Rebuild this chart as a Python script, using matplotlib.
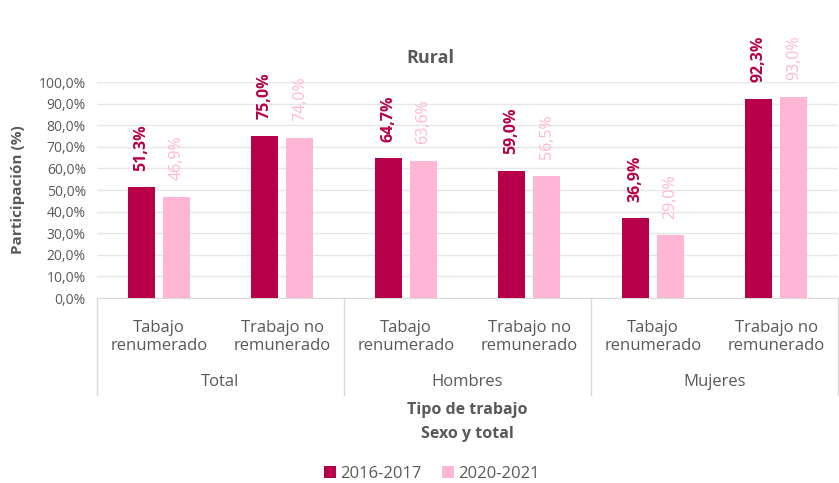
import matplotlib.pyplot as plt
import numpy as np

plt.rcParams['font.family'] = ['Open Sans', 'DejaVu Sans']

groups = ['Total', 'Hombres', 'Mujeres']
subcats = ['Tabajo\nrenumerado', 'Trabajo no\nremunerado']
series_names = ['2016-2017', '2020-2021']
vals_2016 = [51.3, 75.0, 64.7, 59.0, 36.9, 92.3]
vals_2020 = [46.9, 74.0, 63.6, 56.5, 29.0, 93.0]

dark = '#B8004A'
pink = '#FFB6D5'
grey = '#595959'

W, H = 839, 483
fig = plt.figure(figsize=(W / 100, H / 100), dpi=100)
x0, x1, y0, y1 = 97, 838, 298, 82
ax = fig.add_axes([x0 / W, 1 - y0 / H, (x1 - x0) / W, (y0 - y1) / H])

n = len(vals_2016)
x = np.arange(n)
bw = 0.22
gap = 0.065
b1 = ax.bar(x - bw / 2 - gap / 2, vals_2016, bw, color=dark, label=series_names[0], zorder=3)
b2 = ax.bar(x + bw / 2 + gap / 2, vals_2020, bw, color=pink, label=series_names[1], zorder=3)

for r, v in zip(b1, vals_2016):
    ax.annotate(f'{v:.1f}%'.replace('.', ','), (r.get_x() + r.get_width() / 2, v),
                xytext=(0, 12), textcoords='offset points', rotation=90,
                ha='center', va='bottom', fontsize=11.5, fontweight='bold', color=dark)
for r, v in zip(b2, vals_2020):
    ax.annotate(f'{v:.1f}%'.replace('.', ','), (r.get_x() + r.get_width() / 2, v),
                xytext=(0, 12), textcoords='offset points', rotation=90,
                ha='center', va='bottom', fontsize=11.5, color=pink)

ax.set_xlim(-0.5, n - 0.5)
ax.set_ylim(0, 100)
ax.set_yticks(np.arange(0, 101, 10))
ax.set_yticklabels([f'{t:.1f}%'.replace('.', ',') for t in np.arange(0, 101, 10)],
                   fontsize=10, color=grey)
ax.tick_params(axis='y', length=0, pad=8)
ax.set_xticks([])
ax.grid(axis='y', color='#E6E6E6', linewidth=1, zorder=0)
for s in ['top', 'right', 'left']:
    ax.spines[s].set_visible(False)
ax.spines['bottom'].set_color('#D9D9D9')

# category axis (two levels)
tr = ax.get_xaxis_transform()
depth = (395 - y0) / (y0 - y1)
for xs in [-0.5, 1.5, 3.5, 5.5]:
    ax.plot([xs, xs], [0, -depth], transform=tr, color='#D9D9D9', lw=1, clip_on=False)
for i in range(n):
    ax.text(i, -(337 - y0) / (y0 - y1), subcats[i % 2], transform=tr, ha='center',
            va='center', fontsize=12, color=grey, linespacing=1.25)
for g, name in enumerate(groups):
    ax.text(2 * g + 0.5, -(382 - y0) / (y0 - y1), name, transform=tr, ha='center',
            va='center', fontsize=12, color=grey)

fig.text(467 / W, 1 - 410 / H, 'Tipo de trabajo', ha='center', va='center',
         fontsize=11.5, fontweight='bold', color=grey)
fig.text(467 / W, 1 - 434 / H, 'Sexo y total', ha='center', va='center',
         fontsize=11.5, fontweight='bold', color=grey)
fig.text(430 / W, 1 - 58 / H, 'Rural', ha='center', va='center',
         fontsize=13, fontweight='bold', color=grey)
fig.text(18 / W, 1 - 190 / H, 'Participación (%)', ha='center', va='center',
         rotation=90, fontsize=11, fontweight='bold', color=grey)

fig.legend(handles=[b1, b2], labels=series_names, loc='center',
           bbox_to_anchor=(432 / W, 1 - 474 / H), ncol=2, frameon=False,
           fontsize=12, handlelength=0.7, handleheight=0.7, handletextpad=0.3,
           columnspacing=1.2, labelcolor=grey)

fig.savefig('out.png', dpi=100)
